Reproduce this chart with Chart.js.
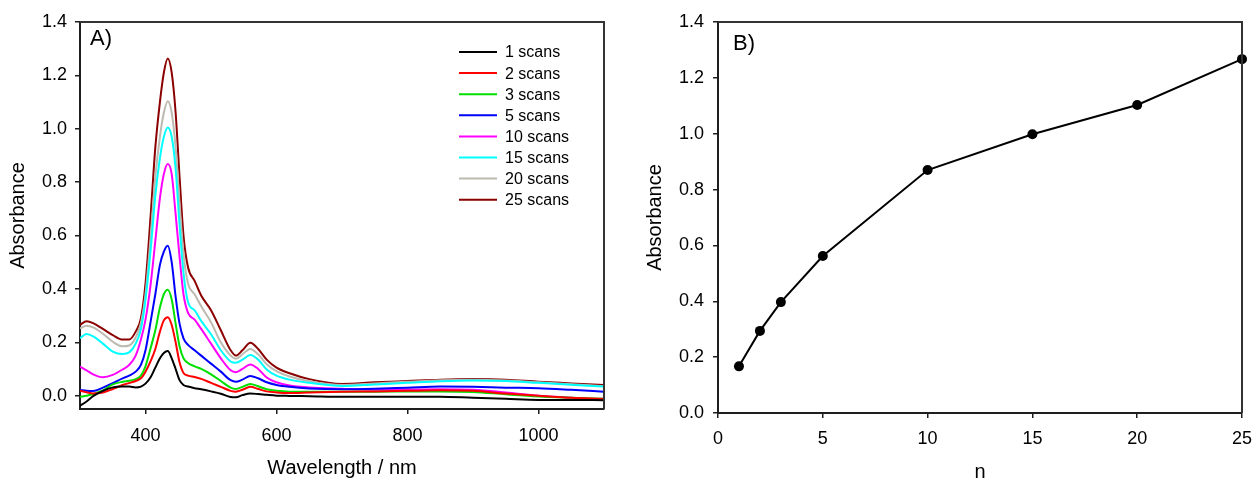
<!DOCTYPE html>
<html><head><meta charset="utf-8">
<script src="https://cdn.jsdelivr.net/npm/chart.js@4.4.1/dist/chart.umd.min.js"></script>
<style>
html,body{margin:0;padding:0;background:#fff;width:1253px;height:482px;overflow:hidden}
#c1{position:absolute;left:0;top:0}
#c2{position:absolute;left:620px;top:0}
</style></head><body>
<canvas id="c1" width="620" height="482"></canvas>
<canvas id="c2" width="633" height="482"></canvas>
<script>
// ---- Panel A data ----
const wavelengths = [300,310,320,335,350,365,375,385,393,400,408,415,422,428,434,440,446,452,458,465,475,485,500,515,530,538,548,560,572,585,600,620,650,700,750,800,850,900,950,1000,1050,1100];
const scans1  = [-0.038,-0.022,-0.002,0.018,0.031,0.034,0.034,0.031,0.034,0.045,0.07,0.105,0.14,0.16,0.167,0.14,0.1,0.058,0.04,0.034,0.028,0.024,0.016,0.007,-0.005,-0.006,0.002,0.008,0.006,0.003,0.0,-0.001,-0.002,-0.004,-0.004,-0.004,-0.004,-0.008,-0.012,-0.016,-0.016,-0.017];
const scans2  = [0.018,0.013,0.008,0.012,0.025,0.04,0.047,0.055,0.065,0.09,0.13,0.175,0.24,0.282,0.294,0.265,0.2,0.125,0.085,0.075,0.07,0.063,0.048,0.033,0.018,0.015,0.022,0.033,0.025,0.016,0.012,0.01,0.012,0.015,0.016,0.018,0.02,0.018,0.008,0.0,-0.008,-0.012];
const scans3  = [-0.004,0.0,0.006,0.02,0.042,0.052,0.056,0.062,0.075,0.11,0.18,0.245,0.33,0.38,0.397,0.36,0.27,0.185,0.14,0.122,0.11,0.1,0.08,0.055,0.03,0.025,0.033,0.044,0.035,0.024,0.018,0.015,0.015,0.015,0.015,0.016,0.016,0.014,0.005,-0.003,-0.008,-0.012];
const scans5  = [0.021,0.018,0.017,0.03,0.047,0.065,0.075,0.09,0.115,0.17,0.28,0.38,0.49,0.54,0.562,0.50,0.37,0.27,0.215,0.19,0.17,0.15,0.12,0.09,0.058,0.052,0.06,0.074,0.065,0.05,0.04,0.033,0.027,0.024,0.026,0.03,0.034,0.033,0.03,0.028,0.022,0.015];
const scans10 = [0.109,0.095,0.080,0.069,0.078,0.098,0.115,0.15,0.21,0.285,0.42,0.58,0.74,0.83,0.868,0.83,0.68,0.52,0.38,0.31,0.285,0.25,0.195,0.14,0.095,0.088,0.1,0.117,0.1,0.068,0.05,0.038,0.031,0.026,0.022,0.023,0.024,0.022,0.012,0.0,-0.008,-0.016];
const scans15 = [0.215,0.231,0.222,0.195,0.165,0.156,0.162,0.195,0.25,0.36,0.55,0.75,0.89,0.97,1.005,0.97,0.85,0.64,0.46,0.35,0.32,0.28,0.23,0.17,0.128,0.123,0.135,0.152,0.135,0.098,0.075,0.06,0.048,0.036,0.042,0.048,0.054,0.057,0.055,0.048,0.041,0.034];
const scans20 = [0.252,0.262,0.256,0.232,0.202,0.185,0.188,0.218,0.272,0.38,0.60,0.82,0.97,1.06,1.103,1.06,0.93,0.72,0.53,0.42,0.38,0.335,0.275,0.20,0.15,0.138,0.155,0.175,0.155,0.118,0.092,0.072,0.054,0.040,0.046,0.052,0.058,0.060,0.057,0.050,0.043,0.035];
const scans25 = [0.265,0.279,0.272,0.250,0.227,0.210,0.210,0.240,0.290,0.42,0.68,0.93,1.10,1.21,1.263,1.21,1.06,0.82,0.60,0.48,0.43,0.375,0.32,0.245,0.17,0.150,0.170,0.198,0.175,0.135,0.105,0.084,0.062,0.044,0.050,0.055,0.060,0.062,0.060,0.052,0.046,0.040];
const seriesLabels = ['1 scans','2 scans','3 scans','5 scans','10 scans','15 scans','20 scans','25 scans'];
const seriesColors = ['#000000','#ff0000','#00e000','#0000ff','#ff00ff','#00ffff','#bcbab0','#8b0000'];
const seriesValues = [scans1,scans2,scans3,scans5,scans10,scans15,scans20,scans25];
const xTicksA = [400,600,800,1000];
const yTicksAbs = [0,0.2,0.4,0.6,0.8,1.0,1.2,1.4];

// ---- Panel B data ----
const nScans = [1,2,3,5,10,15,20,25];
const peakAbs = [0.167,0.294,0.397,0.562,0.870,0.998,1.103,1.267];
const xTicksB = [0,5,10,15,20,25];

Chart.defaults.font.family = '"Liberation Sans", Arial, sans-serif';
Chart.defaults.color = '#000';

const AXIS = '#1e1e1e';

function fixScale(w, h) {
  return function(scale) {
    if (w != null) scale.width = w;
    if (h != null) scale.height = h;
    scale.paddingLeft = 0; scale.paddingRight = 0;
    scale.paddingTop = 0; scale.paddingBottom = 0;
  };
}
function setTicks(arr) {
  return function(scale) { scale.ticks = arr.map(v => ({value: v})); };
}

const framePlugin = {
  id: 'frame',
  afterDraw(chart) {
    const a = chart.chartArea, ctx = chart.ctx;
    ctx.save();
    ctx.strokeStyle = '#333';
    ctx.lineWidth = 2;
    ctx.beginPath();
    ctx.moveTo(a.left, a.top);
    ctx.lineTo(a.right, a.top);
    ctx.lineTo(a.right, a.bottom);
    ctx.stroke();
    ctx.restore();
  }
};

const panelLabelPlugin = {
  id: 'panelLabel',
  afterDraw(chart, args, opts) {
    const ctx = chart.ctx;
    ctx.save();
    ctx.font = opts.size + 'px "Liberation Sans", Arial, sans-serif';
    ctx.fillStyle = '#000';
    ctx.textBaseline = 'alphabetic';
    ctx.textAlign = 'left';
    ctx.fillText(opts.text, opts.x, opts.y);
    ctx.restore();
  }
};

const insideLegendPlugin = {
  id: 'insideLegend',
  afterDraw(chart, args, opts) {
    if (!opts || !opts.display) return;
    const ctx = chart.ctx;
    ctx.save();
    ctx.font = opts.size + 'px "Liberation Sans", Arial, sans-serif';
    ctx.textBaseline = 'middle';
    ctx.textAlign = 'left';
    chart.data.datasets.forEach((ds, i) => {
      const y = opts.y + i * opts.rowH;
      ctx.strokeStyle = ds.borderColor;
      ctx.lineWidth = 2;
      ctx.beginPath();
      ctx.moveTo(opts.x, y);
      ctx.lineTo(opts.x + opts.lineLen, y);
      ctx.stroke();
      ctx.fillStyle = '#000';
      ctx.fillText(ds.label, opts.x + opts.lineLen + opts.gap, y + 1);
    });
    ctx.restore();
  }
};

// ---- Chart A ----
new Chart(document.getElementById('c1'), {
  type: 'line',
  data: {
    datasets: seriesValues.map((vals, i) => ({
      label: seriesLabels[i],
      data: wavelengths.map((w, j) => ({x: w, y: vals[j]})),
      borderColor: seriesColors[i],
      backgroundColor: seriesColors[i],
      borderWidth: 2,
      pointRadius: 0,
      cubicInterpolationMode: 'monotone',
      fill: false
    }))
  },
  options: {
    responsive: false,
    animation: false,
    devicePixelRatio: 1,
    layout: {padding: {left: 0, right: 16, top: 22, bottom: 0}},
    plugins: {
      legend: {display: false},
      tooltip: {enabled: false},
      panelLabel: {text: 'A)', x: 90, y: 45, size: 22},
      insideLegend: {display: true, x: 459, y: 52, rowH: 21.1, lineLen: 38, gap: 8, size: 16}
    },
    scales: {
      x: {
        type: 'linear', min: 300, max: 1100,
        afterFit: fixScale(null, 73),
        afterBuildTicks: setTicks(xTicksA),
        grid: {drawOnChartArea: false, drawTicks: true, tickLength: 5, color: AXIS, lineWidth: 1.5},
        border: {display: true, color: AXIS, width: 2},
        ticks: {padding: 11, font: {size: 18}, color: '#000', maxRotation: 0, autoSkip: false, callback: v => String(v)},
        title: {display: true, text: 'Wavelength / nm', font: {size: 20, lineHeight: 1.0}, padding: {top: 0, bottom: 4}}
      },
      y: {
        type: 'linear', min: -0.05, max: 1.4,
        afterFit: fixScale(80, null),
        afterBuildTicks: setTicks(yTicksAbs),
        grid: {drawOnChartArea: false, drawTicks: true, tickLength: 5, color: AXIS, lineWidth: 1.5},
        border: {display: true, color: AXIS, width: 2},
        ticks: {padding: 8, font: {size: 18}, color: '#000', callback: v => v.toFixed(1), autoSkip: false},
        title: {display: true, text: 'Absorbance', font: {size: 20, lineHeight: 1.0}, padding: {top: 8, bottom: 0}}
      }
    }
  },
  plugins: [framePlugin, panelLabelPlugin, insideLegendPlugin]
});

// ---- Chart B ----
new Chart(document.getElementById('c2'), {
  type: 'line',
  data: {
    datasets: [{
      label: 'Absorbance',
      data: nScans.map((n, i) => ({x: n, y: peakAbs[i]})),
      borderColor: '#000',
      backgroundColor: '#000',
      borderWidth: 2,
      pointRadius: 5,
      pointBorderWidth: 0,
      pointBackgroundColor: '#000',
      tension: 0,
      clip: false,
      fill: false
    }]
  },
  options: {
    responsive: false,
    animation: false,
    devicePixelRatio: 1,
    layout: {padding: {left: 0, right: 11, top: 22, bottom: 0}},
    plugins: {
      legend: {display: false},
      tooltip: {enabled: false},
      panelLabel: {text: 'B)', x: 113, y: 50, size: 22},
      insideLegend: {display: false}
    },
    scales: {
      x: {
        type: 'linear', min: 0, max: 25,
        afterFit: fixScale(null, 69),
        afterBuildTicks: setTicks(xTicksB),
        grid: {drawOnChartArea: false, drawTicks: true, tickLength: 5, color: AXIS, lineWidth: 1.5},
        border: {display: true, color: AXIS, width: 2},
        ticks: {padding: 10, font: {size: 18}, color: '#000', maxRotation: 0, autoSkip: false, callback: v => String(v)},
        title: {display: true, text: 'n', font: {size: 20, lineHeight: 1.0}, padding: {top: 0, bottom: 0}}
      },
      y: {
        type: 'linear', min: 0, max: 1.4,
        afterFit: fixScale(98, null),
        afterBuildTicks: setTicks(yTicksAbs),
        grid: {drawOnChartArea: false, drawTicks: true, tickLength: 5, color: AXIS, lineWidth: 1.5},
        border: {display: true, color: AXIS, width: 2},
        ticks: {padding: 9, font: {size: 18}, color: '#000', callback: v => v.toFixed(1), autoSkip: false},
        title: {display: true, text: 'Absorbance', font: {size: 20, lineHeight: 1.0}, padding: {top: 25, bottom: 0}}
      }
    }
  },
  plugins: [framePlugin, panelLabelPlugin]
});
</script>
</body></html>
